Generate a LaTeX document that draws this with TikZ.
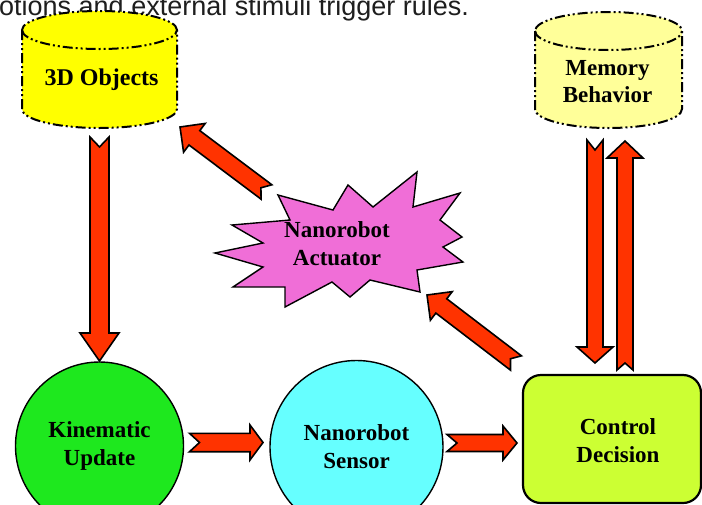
\documentclass[tikz,border=0pt]{standalone}
\usepackage{fontspec}
\setmainfont{Liberation Serif}
\newfontfamily\topfont{Liberation Sans}
\usetikzlibrary{calc}
\definecolor{arrred}{RGB}{255,51,0}
\definecolor{objyellow}{RGB}{255,255,0}
\definecolor{memyellow}{RGB}{255,255,153}
\definecolor{kingreen}{RGB}{30,232,30}
\definecolor{sencyan}{RGB}{102,255,255}
\definecolor{ctllime}{RGB}{204,255,51}
\definecolor{actpink}{RGB}{240,110,215}
\definecolor{toptext}{RGB}{30,30,30}
\tikzset{
  lbl/.style={font=\fontsize{23}{28}\selectfont\bfseries, align=center, text=black, inner sep=0pt, outer sep=0pt},
  blockarr/.style={draw=black, fill=arrred, line width=1.6pt, line join=miter},
  cylline/.style={draw=black, line width=2pt, dash pattern=on 10pt off 3pt on 2pt off 3pt on 2pt off 3pt},
  cylbox/.style={draw=none, inner sep=0pt, outer sep=0pt},
  roundnode/.style={circle, draw=black, line width=1.4pt, inner sep=0pt, outer sep=0pt},
}
\newcommand\barr[6]{%
  \coordinate (bq) at ($(#2)!#5!(#1)$);
  \coordinate (bn) at ($(#1)!#6!(#2)$);
  \draw[blockarr] ($(#1)!#3!90:(#2)$) -- (bn) -- ($(#1)!#3!-90:(#2)$)
    -- ($(bq)!#3!-90:(#2)$) -- ($(bq)!#4!-90:(#2)$) -- (#2)
    -- ($(bq)!#4!90:(#2)$) -- ($(bq)!#3!90:(#2)$) -- cycle;
}
\begin{document}
\begin{tikzpicture}[x=1pt,y=1pt,yscale=-1]
\clip (0,0) rectangle (702,504);
\fill[white] (0,0) rectangle (702,504);

% top cut-off text
\node[anchor=base west, inner sep=0pt, text=toptext, font=\topfont\fontsize{27}{30}\selectfont] (toptxt) at (-1,15) {otions and external stimuli trigger rules.};

% 3D Objects cylinder
\draw[cylline, fill=objyellow] (22,30) -- (22,109) arc[start angle=180, end angle=0, x radius=77.5, y radius=19]
  -- (177,30) arc[start angle=0, end angle=-180, x radius=77.5, y radius=19] -- cycle;
\draw[cylline] (22,30) arc[start angle=180, end angle=0, x radius=77.5, y radius=19];
\node[cylbox, minimum width=155pt, minimum height=117pt] (obj) at (99.5,69.5) {};
\node[lbl, font=\fontsize{24}{28}\selectfont\bfseries] (objt) at (101.5,80) {3D Objects};

% Memory Behavior cylinder
\draw[cylline, fill=memyellow] (535,31) -- (535,109) arc[start angle=180, end angle=0, x radius=73.5, y radius=19]
  -- (682,31) arc[start angle=0, end angle=-180, x radius=73.5, y radius=19] -- cycle;
\draw[cylline] (535,31) arc[start angle=180, end angle=0, x radius=73.5, y radius=19];
\node[cylbox, minimum width=147pt, minimum height=116pt] (mem) at (608.5,70) {};
\node[lbl, font=\fontsize{23}{27}\selectfont\bfseries] (memt) at (607.5,82) {Memory\\Behavior};

% Nanorobot Actuator starburst
\draw[line width=1.4pt, line join=miter, fill=actpink]
  (278,195) -- (333,210) -- (348,185) -- (373,207) -- (417,172) -- (413,207)
  -- (460,193) -- (440,220) -- (462,237) -- (443,247) -- (463,262) -- (417,270)
  -- (420,292) -- (370,280) -- (350,297) -- (332,282) -- (285,307) -- (285,287)
  -- (233,287) -- (263,267) -- (215,253) -- (263,243) -- (232,225) -- (290,220) -- cycle;
\node[lbl] (act) at (337,244) {Nanorobot\\Actuator};

% bottom nodes
\node[roundnode, fill=kingreen, minimum size=168pt, lbl] (kin) at (99.5,446) {Kinematic\\Update};
\node[roundnode, fill=sencyan, minimum size=173pt, lbl] (sen) at (356.5,447) {Nanorobot\\Sensor};
\node[draw=black, line width=2.2pt, rounded corners=18pt, fill=ctllime, minimum width=178pt, minimum height=128pt, inner sep=0pt, outer sep=0pt] (ctl) at (612,439) {};
\node[lbl] (ctlt) at (618,441) {Control\\Decision};

% arrow end points
\coordinate (a1s) at ($(obj.south)+(0,9)$);
\coordinate (a1e) at ($(kin.north)+(0,-1)$);
\coordinate (a2s) at ($(act.center)+(-70.5,-52)$);
\coordinate (a2e) at ($(obj.south east)+(3,-1)$);
\coordinate (a3s) at ($(ctl.north west)+(-7,-12)$);
\coordinate (a3e) at ($(act.center)+(90,51)$);
\coordinate (a4s) at ($(mem.south)+(-13.5,12)$);
\coordinate (a4e) at ($(ctl.north)+(-17,-12)$);
\coordinate (a5s) at ($(ctl.north)+(13,-5)$);
\coordinate (a5e) at ($(mem.south)+(16.5,13)$);
\coordinate (a6s) at ($(kin.east)+(6,-3.5)$);
\coordinate (a6e) at ($(sen.west)+(-7,-4.5)$);
\coordinate (a7s) at ($(sen.east)+(4,-4)$);
\coordinate (a7e) at ($(ctl.west)+(-6,4)$);

% block arrows
\barr{a1s}{a1e}{9.5pt}{19.5pt}{28pt}{10pt}
\barr{a2s}{a2e}{9pt}{18pt}{18pt}{7pt}
\barr{a3s}{a3e}{9pt}{18pt}{18pt}{7pt}
\barr{a4s}{a4e}{8pt}{18pt}{16pt}{10pt}
\barr{a5s}{a5e}{8pt}{18pt}{17pt}{7pt}
\barr{a6s}{a6e}{9.2pt}{17.5pt}{13pt}{10pt}
\barr{a7s}{a7e}{8.5pt}{17pt}{14pt}{10pt}
\end{tikzpicture}
\end{document}
